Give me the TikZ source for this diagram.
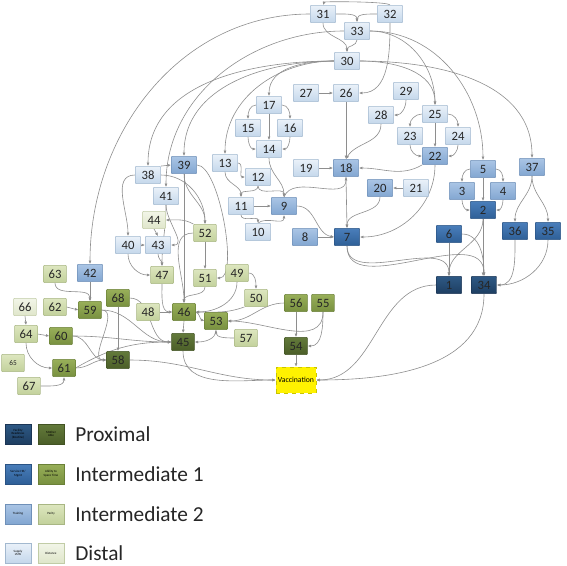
\documentclass[tikz,border=0pt]{standalone}
\usepackage{fontspec}
\setmainfont{Carlito}
\usetikzlibrary{arrows.meta,backgrounds}

\definecolor{lineGray}{HTML}{8E8E8E}
\definecolor{bDistTop}{HTML}{EAF1F9}\definecolor{bDistBot}{HTML}{C4D7EB}\definecolor{bDistLine}{HTML}{A2B8CF}
\definecolor{bInTwoTop}{HTML}{AAC5E5}\definecolor{bInTwoBot}{HTML}{82A6D1}\definecolor{bInTwoLine}{HTML}{6F90B8}
\definecolor{bInOneTop}{HTML}{4A7EBA}\definecolor{bInOneBot}{HTML}{2E5F97}\definecolor{bInOneLine}{HTML}{2A5384}
\definecolor{bProxTop}{HTML}{2E5985}\definecolor{bProxBot}{HTML}{1E3E61}\definecolor{bProxLine}{HTML}{1B3555}
\definecolor{gDistTop}{HTML}{F2F5E8}\definecolor{gDistBot}{HTML}{DFE6CA}\definecolor{gDistLine}{HTML}{C1CCA6}
\definecolor{gInTwoTop}{HTML}{DDE6BF}\definecolor{gInTwoBot}{HTML}{C2D19B}\definecolor{gInTwoLine}{HTML}{A8B683}
\definecolor{gInOneTop}{HTML}{98AF59}\definecolor{gInOneBot}{HTML}{78903F}\definecolor{gInOneLine}{HTML}{6A8037}
\definecolor{gProxTop}{HTML}{637A3B}\definecolor{gProxBot}{HTML}{4B5E28}\definecolor{gProxLine}{HTML}{425323}
\definecolor{vacLine}{HTML}{C8C400}

\tikzset{
  nbox/.style={rectangle, draw, rounded corners=0.6pt, minimum width=19pt, minimum height=13pt, inner sep=1pt, font=\fontsize{9.5}{10}\selectfont, text=black!85},
  gbox/.style={nbox, minimum width=17pt},
  distB/.style={nbox, draw=bDistLine, top color=bDistTop, bottom color=bDistBot},
  intTwoB/.style={nbox, draw=bInTwoLine, top color=bInTwoTop, bottom color=bInTwoBot},
  intOneB/.style={nbox, draw=bInOneLine, top color=bInOneTop, bottom color=bInOneBot},
  proxB/.style={nbox, draw=bProxLine, top color=bProxTop, bottom color=bProxBot},
  distG/.style={gbox, draw=gDistLine, top color=gDistTop, bottom color=gDistBot},
  intTwoG/.style={gbox, draw=gInTwoLine, top color=gInTwoTop, bottom color=gInTwoBot},
  intOneG/.style={gbox, draw=gInOneLine, top color=gInOneTop, bottom color=gInOneBot},
  proxG/.style={gbox, draw=gProxLine, top color=gProxTop, bottom color=gProxBot},
  vacbox/.style={rectangle, draw=vacLine, dashed, fill=yellow, minimum width=30pt, minimum height=19.5pt, inner sep=0pt, font=\fontsize{5.8}{6}\selectfont},
  legbox/.style={minimum width=19.5pt, minimum height=15pt, inner sep=0pt, align=center, font=\fontsize{2.4}{2.8}\selectfont},
  legtext/.style={anchor=west, inner sep=0pt, font=\fontsize{16}{18}\selectfont, text=black!85},
  conn/.style={draw=lineGray, line width=0.45pt, -{Latex[length=2.6pt,width=2.2pt]}},
}

\begin{document}
\begin{tikzpicture}[x=0.75pt, y=0.75pt]
\useasboundingbox (0,0) rectangle (567,-565);

\node[distB] (n31) at (323,-14) {31};
\node[distB] (n32) at (390,-14) {32};
\node[distB] (n33) at (357,-31) {33};
\node[distB] (n30) at (347,-61) {30};
\node[distB] (n27) at (306,-93) {27};
\node[distB] (n26) at (346,-93) {26};
\node[distB] (n29) at (406,-91) {29};
\node[distB] (n28) at (381,-115) {28};
\node[distB] (n25) at (435,-114) {25};
\node[distB] (n23) at (410,-136) {23};
\node[distB] (n24) at (458,-136) {24};
\node[distB] (n17) at (269,-105) {17};
\node[distB] (n15) at (248,-128) {15};
\node[distB] (n16) at (290,-128) {16};
\node[distB] (n14) at (269,-149) {14};
\node[distB] (n13) at (225,-163) {13};
\node[distB] (n12) at (258,-177) {12};
\node[distB] (n19) at (306,-168) {19};
\node[distB] (n38) at (148,-175) {38};
\node[distB] (n41) at (166,-196) {41};
\node[distB] (n40) at (128,-245) {40};
\node[distB] (n43) at (158,-245) {43};
\node[distB] (n11) at (241,-206) {11};
\node[distB] (n10) at (258,-232) {10};
\node[distB] (n21) at (416,-188) {21};

\node[intTwoB] (n22) at (435,-156) {22};
\node[intTwoB] (n18) at (346,-168) {18};
\node[intTwoB] (n39) at (184,-165) {39};
\node[intTwoB] (n9) at (284,-206) {9};
\node[intTwoB] (n20) at (380,-188) {20};
\node[intTwoB] (n5) at (483,-169) {5};
\node[intTwoB] (n3) at (462,-191) {3};
\node[intTwoB] (n4) at (503,-191) {4};
\node[intTwoB] (n37) at (532,-167) {37};
\node[intTwoB] (n8) at (305,-237) {8};
\node[intTwoB] (n42) at (90,-273) {42};

\node[intOneB] (n2) at (483,-210) {2};
\node[intOneB] (n36) at (515,-231) {36};
\node[intOneB] (n35) at (548,-231) {35};
\node[intOneB] (n6) at (449,-234) {6};
\node[intOneB] (n7) at (347,-237) {7};

\node[proxB] (n1) at (449,-285) {1};
\node[proxB] (n34) at (484,-285) {34};

\node[distG] (n66) at (25,-307) {66};
\node[distG] (n44) at (154,-220) {44};

\node[intTwoG] (n63) at (55,-274) {63};
\node[intTwoG] (n62) at (55,-307) {62};
\node[intTwoG] (n64) at (26,-334) {64};
\node[intTwoG, font=\fontsize{5.5}{6}\selectfont] (n65) at (13,-363) {65};
\node[intTwoG] (n67) at (29,-386) {67};
\node[intTwoG] (n52) at (205,-233) {52};
\node[intTwoG] (n47) at (162,-275) {47};
\node[intTwoG] (n51) at (205,-278) {51};
\node[intTwoG] (n49) at (237,-273) {49};
\node[intTwoG] (n50) at (256,-298) {50};
\node[intTwoG] (n48) at (148,-312) {48};
\node[intTwoG] (n57) at (246,-338) {57};

\node[intOneG] (n59) at (90,-310) {59};
\node[intOneG] (n68) at (118,-298) {68};
\node[intOneG] (n60) at (61,-336) {60};
\node[intOneG] (n61) at (64,-368) {61};
\node[intOneG] (n46) at (184,-312) {46};
\node[intOneG] (n53) at (216,-321) {53};
\node[intOneG] (n56) at (296,-303) {56};
\node[intOneG] (n55) at (323,-303) {55};

\node[proxG] (n58) at (118,-360) {58};
\node[proxG] (n45) at (183,-342) {45};
\node[proxG] (n54) at (296,-346) {54};

\node[vacbox] (vac) at (296,-380) {Vaccination};

\begin{scope}[on background layer]
\draw[conn] (n32.north) to[out=110,in=70,looseness=0.15] (n31.north);
\draw[conn] (n31.east) to[out=0,in=90] (n33.north);
\draw[conn] (n32.west) to[out=180,in=90] (n33.north);
\draw[conn] (n31.south) to[out=-90,in=90] (n30.north);
\draw[conn] (n33.south) to[out=-90,in=90] (n30.north);
\draw[conn] (n32.south) to[out=-90,in=0] (n26.east);
\draw[conn] (n33.east) to[out=0,in=90] (n25.north);
\draw[conn] (n30.east) to[out=0,in=90] (n25.north);
\draw[conn] (n33.east) to[out=0,in=90] (n5.north);
\draw[conn] (n30.east) to[out=0,in=90] (n37.north);
\draw[conn] (n30.west) to[out=180,in=90] (n17.north);
\draw[conn] (n30.west) to[out=180,in=90] (n13.north);
\draw[conn] (n30.west) to[out=180,in=90] (n39.north);
\draw[conn] (n30.west) to[out=180,in=90] (n38.north);
\draw[conn] (n31.west) to[out=180,in=90] (n42.north);
\draw[conn] (n33.west) to[out=180,in=90] (n41.north);

\draw[conn] (n27.east) -- (n26.west);
\draw[conn] (n26.south) -- (n18.north);
\draw[conn] (n29.south) to[out=-90,in=0] (n28.east);
\draw[conn] (n28.south) to[out=-90,in=60] (n18.north);
\draw[conn] (n19.east) -- (n18.west);
\draw[conn] (n22.south west) to[out=-150,in=0] (n18.east);
\draw[conn] (n22.south) to[out=-90,in=0] (n7.east);
\draw[conn] (n25.west) to[out=180,in=90] (n23.north);
\draw[conn] (n25.east) to[out=0,in=90] (n24.north);
\draw[conn] (n25.south) -- (n22.north);
\draw[conn] (n23.south) to[out=-90,in=180] (n22.west);
\draw[conn] (n24.south) to[out=-90,in=0] (n22.east);

\draw[conn] (n17.west) to[out=180,in=90] (n15.north);
\draw[conn] (n17.east) to[out=0,in=90] (n16.north);
\draw[conn] (n17.south) -- (n14.north);
\draw[conn] (n15.south) to[out=-90,in=180] (n14.west);
\draw[conn] (n16.south) to[out=-90,in=0] (n14.east);
\draw[conn] (n14.south) to[out=-90,in=90] (n9.north);
\draw[conn] (n9.north) to[out=70,in=-90] (n18.south);
\draw[conn] (n18.south) -- (n7.north);
\draw[conn] (n20.south) to[out=-90,in=90] (n7.north);
\draw[conn] (n21.west) -- (n20.east);
\draw[conn] (n8.east) -- (n7.west);
\draw[conn] (n9.east) to[out=0,in=170] (n7.west);
\draw[conn] (n13.east) to[out=0,in=180] (n12.west);
\draw[conn] (n13.south) to[out=-90,in=90] (n11.north);
\draw[conn] (n12.south) to[out=-90,in=90] (n11.north);
\draw[conn] (n12.south) to[out=-90,in=90] (n9.north);
\draw[conn] (n11.east) -- (n9.west);
\draw[conn] (n11.south) to[out=-90,in=90] (n10.north);
\draw[conn] (n10.north) to[out=40,in=-90] (n9.south);

\draw[conn] (n5.west) to[out=180,in=90] (n3.north);
\draw[conn] (n5.east) to[out=0,in=90] (n4.north);
\draw[conn] (n5.south) -- (n2.north);
\draw[conn] (n3.south) to[out=-90,in=180] (n2.west);
\draw[conn] (n4.south) to[out=-90,in=0] (n2.east);
\draw[conn] (n37.south) to[out=-90,in=90] (n36.north);
\draw[conn] (n37.south) to[out=-90,in=90] (n35.north);
\draw[conn] (n2.south) to[out=-90,in=90] (n1.north);
\draw[conn] (n2.south) -- (n2.south |- n34.north);
\draw[conn] (n6.south) -- (n1.north);
\draw[conn] (n6.east) to[out=0,in=90] (n34.north);
\draw[conn] (n7.south) to[out=-90,in=90] (n1.north);
\draw[conn] (n7.south) to[out=-90,in=90] (n34.north);
\draw[conn] (n36.south) to[out=-90,in=0] (n34.east);
\draw[conn] (n35.south) to[out=-90,in=0] (n34.east);
\draw[conn] (n1.west) to[out=180,in=0] (vac.east);
\draw[conn] (n34.south) to[out=-90,in=0] (vac.east);

\draw[conn] (n38.north east) -- (n39.west);
\draw[conn] (n38.west) to[out=180,in=90] (n40.north);
\draw[conn] (n38.east) to[out=0,in=90] (n52.north);
\draw[conn] (n39.south) to[out=-90,in=90] (n52.north);
\draw[conn] (n39.south) -- (n46.north);
\draw[conn] (n39.east) to[out=0,in=0,looseness=0.5] (n51.east);
\draw[conn] (n52.south) -- (n51.north);
\draw[conn] (n52.north west) to[out=150,in=0] (n44.east);
\draw[conn] (n52.west) to[out=180,in=90] (n46.north);
\draw[conn] (n44.south) -- (n43.north);
\draw[conn] (n40.east) -- (n43.west);
\draw[conn] (n41.south) to[out=-90,in=0] (n43.east);
\draw[conn] (n41.south) to[out=-90,in=90] (n47.north);
\draw[conn] (n43.south) to[out=-90,in=90] (n47.north);
\draw[conn] (n40.south) to[out=-90,in=180] (n47.west);
\draw[conn] (n47.south) to[out=-90,in=180] (n46.west);
\draw[conn] (n48.east) -- (n46.west);
\draw[conn] (n51.south) to[out=-90,in=90] (n46.north);
\draw[conn] (n49.east) to[out=0,in=90] (n50.north);
\draw[conn] (n49.south) to[out=-90,in=0] (n46.east);
\draw[conn] (n50.south west) to[out=-160,in=0] (n46.east);
\draw[conn] (n46.east) to[out=-20,in=160] (n53.west);
\draw[conn] (n46.south) -- (n45.north);
\draw[conn] (n53.south) to[out=-90,in=0] (n45.east);
\draw[conn] (n57.west) to[out=180,in=-90] (n53.south);
\draw[conn] (n56.west) to[out=180,in=0] (n53.east);
\draw[conn] (n55.south) to[out=-90,in=0] (n53.east);
\draw[conn] (n56.south) -- (n54.north);
\draw[conn] (n55.south) to[out=-90,in=0] (n54.east);
\draw[conn] (n54.south) -- (vac.north);
\draw[conn] (n45.south) to[out=-90,in=180] (vac.west);
\draw[conn] (n58.east) to[out=0,in=180] (vac.west);

\draw[conn] (n42.south) -- (n59.north);
\draw[conn] (n63.south) to[out=-90,in=90] (n59.north);
\draw[conn] (n62.east) -- (n59.west);
\draw[conn] (n66.south) -- (n64.north);
\draw[conn] (n64.east) -- (n60.west);
\draw[conn] (n64.south) to[out=-90,in=180] (n61.west);
\draw[conn] (n67.east) to[out=0,in=-90] (n61.south);
\draw[conn] (n61.east) to[out=0,in=180] (n58.west);
\draw[conn] (n60.east) to[out=0,in=180] (n58.west);
\draw[conn] (n59.east) to[out=0,in=180] (n58.west);
\draw[conn] (n68.south) -- (n58.north);
\draw[conn] (n68.east) to[out=0,in=180] (n45.west);
\draw[conn] (n59.east) to[out=0,in=180] (n45.west);
\draw[conn] (n60.east) to[out=0,in=180] (n45.west);
\draw[conn] (n61.east) to[out=30,in=180] (n45.west);
\end{scope}

\node[legbox, draw=bProxLine, top color=bProxTop, bottom color=bProxBot] (lgPB) at (18,-434) {Facility\\Readiness\\(Routine)};
\node[legbox, draw=gProxLine, top color=gProxTop, bottom color=gProxBot] (lgPG) at (51,-434) {Mother\\Able};
\node[legtext] (lgP) at (75,-434) {Proximal};
\node[legbox, draw=bInOneLine, top color=bInOneTop, bottom color=bInOneBot] (lgOB) at (18,-474) {Service HR/\\Mgmt};
\node[legbox, draw=gInOneLine, top color=gInOneTop, bottom color=gInOneBot] (lgOG) at (51,-474) {Ability to\\Spare Time};
\node[legtext] (lgO) at (75,-474) {Intermediate 1};
\node[legbox, draw=bInTwoLine, top color=bInTwoTop, bottom color=bInTwoBot] (lgTB) at (18,-514) {Training};
\node[legbox, draw=gInTwoLine, top color=gInTwoTop, bottom color=gInTwoBot] (lgTG) at (51,-514) {Parity};
\node[legtext] (lgT) at (75,-514) {Intermediate 2};
\node[legbox, draw=bDistLine, top color=bDistTop, bottom color=bDistBot] (lgDB) at (18,-553) {Supply\\LMIS};
\node[legbox, draw=gDistLine, top color=gDistTop, bottom color=gDistBot] (lgDG) at (51,-553) {Distance};
\node[legtext] (lgD) at (75,-553) {Distal};
\end{tikzpicture}
\end{document}
